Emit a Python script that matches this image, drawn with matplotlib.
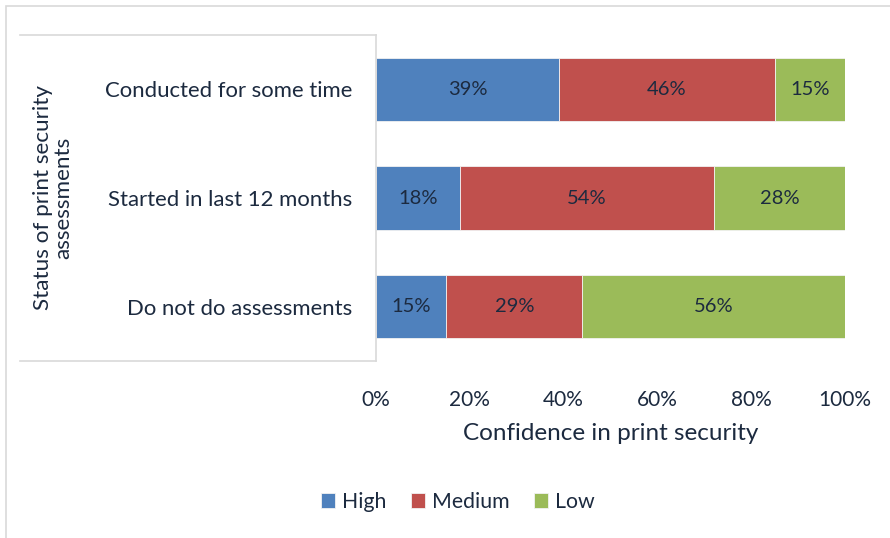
import matplotlib
matplotlib.use("Agg")
import matplotlib.pyplot as plt
from matplotlib.lines import Line2D
from matplotlib.patches import Rectangle
import numpy as np

categories = ["Conducted for some time", "Started in last 12 months", "Do not do assessments"]
series_names = ["High", "Medium", "Low"]
high = [39, 18, 15]
medium = [46, 54, 29]
low = [15, 28, 56]
colors = ["#4F81BD", "#C0504D", "#9BBB59"]
xticks = [0, 20, 40, 60, 80, 100]
xtick_labels = ["0%", "20%", "40%", "60%", "80%", "100%"]

txt = "#1C2A3F"
plt.rcParams['font.family'] = ['Lato', 'DejaVu Sans']

W, H = 890, 538
fig = plt.figure(figsize=(W / 100, H / 100), dpi=100)

def fx(px):
    return px / W

def fy(py):
    return 1 - py / H

ax = fig.add_axes([fx(376), fy(361), fx(845) - fx(376), fy(35) - fy(361)])

y = np.arange(len(categories))
left = np.zeros(len(categories))
for name, vals, c in zip(series_names, [high, medium, low], colors):
    vals = np.array(vals, dtype=float)
    ax.barh(y, vals, left=left, height=0.58, color=c, edgecolor="#F2F2F2",
            linewidth=0.6, label=name)
    for yi, l, v in zip(y, left, vals):
        ax.text(l + v / 2, yi, f"{int(v)}%", ha="center", va="center",
                fontsize=14.5, color=txt)
    left += vals

ax.set_xlim(0, 100)
ax.set_ylim(2.5, -0.5)
ax.set_yticks(y)
ax.set_yticklabels(categories, fontsize=15.9, color=txt)
ax.set_xticks(xticks)
ax.set_xticklabels(xtick_labels, fontsize=15, color=txt)
ax.tick_params(axis="y", length=0, pad=17)
ax.tick_params(axis="x", length=0, pad=21)
for s in ["top", "right", "bottom"]:
    ax.spines[s].set_visible(False)
ax.spines["left"].set_color("#D9D9D9")
ax.spines["left"].set_linewidth(1.2)

ax.set_xlabel("Confidence in print security", fontsize=17.5, color=txt, labelpad=9)

# y-axis label box
fig.add_artist(Line2D([fx(20), fx(376)], [fy(35), fy(35)], color="#D9D9D9", lw=1.2))
fig.add_artist(Line2D([fx(20), fx(376)], [fy(361), fy(361)], color="#D9D9D9", lw=1.2))
fig.text(fx(53), fy(198), "Status of print security\nassessments", rotation=90,
         ha="center", va="center", fontsize=16.2, color=txt, linespacing=1.05)

# outer border
fig.add_artist(Rectangle((fx(6), fy(540)), fx(900) - fx(6), fy(6) - fy(540),
                         fill=False, edgecolor="#D9D9D9", lw=1.2, transform=fig.transFigure))

fig.legend(loc="center", bbox_to_anchor=(fx(458), fy(502)), ncol=3, frameon=False,
           fontsize=15.3, handlelength=0.65, handleheight=0.65, handletextpad=0.35,
           columnspacing=1.15, labelcolor=txt)

fig.savefig("out.png", dpi=100)
